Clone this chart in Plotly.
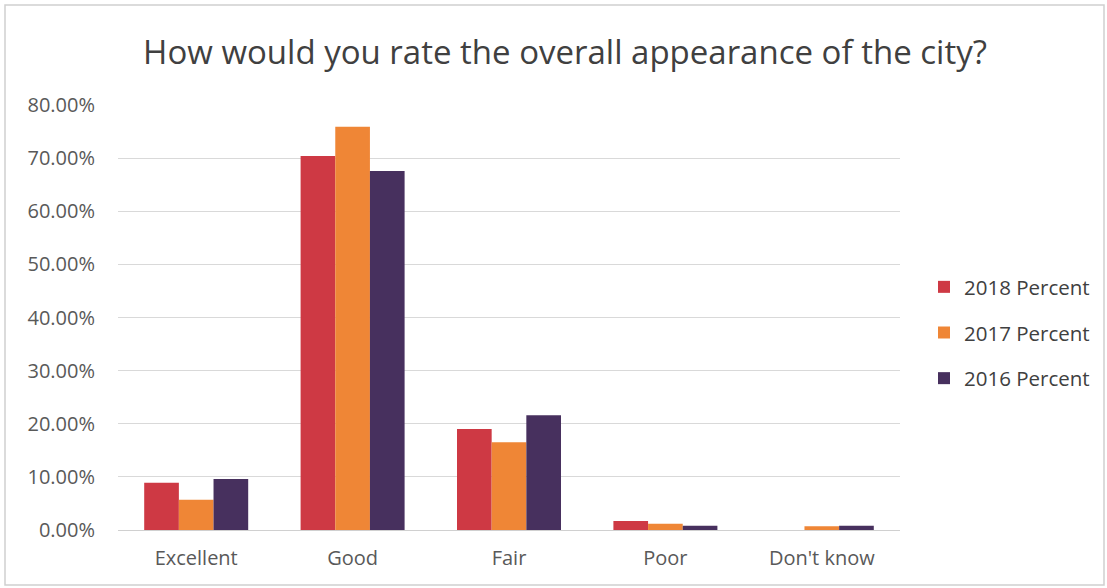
import plotly.graph_objects as go

# Survey responses: share of residents choosing each rating
categories = ["Excellent", "Good", "Fair", "Poor", "Don't know"]
pct_2018 = [0.089, 0.704, 0.190, 0.017, 0.000]
pct_2017 = [0.057, 0.759, 0.165, 0.012, 0.007]
pct_2016 = [0.096, 0.676, 0.216, 0.008, 0.008]

series_names = ["2018 Percent", "2017 Percent", "2016 Percent"]
series_values = [pct_2018, pct_2017, pct_2016]
series_colors = ["#CE3944", "#EF8636", "#47305E"]

W, H = 1107, 588
L, R, T, B = 118, 207, 105, 58

fig = go.Figure()
for name, vals, col in zip(series_names, series_values, series_colors):
    fig.add_trace(go.Bar(
        x=categories, y=vals, name=name, legendgroup=name,
        marker=dict(color=col, line=dict(width=0)),
    ))

# outer chart frame (paper coordinates extend past the plot area)
pw, ph = W - L - R, H - T - B
fx0, fx1 = (5 - L) / pw, (W - 3 - L) / pw
fy0, fy1 = (H - B - (H - 3)) / ph, (H - B - 5) / ph

fig.update_layout(
    width=W, height=H,
    margin=dict(l=L, r=R, t=T, b=B),
    paper_bgcolor="white", plot_bgcolor="white",
    font=dict(family="'Open Sans', Lato, sans-serif", color="#595959"),
    title=dict(
        text="How would you rate the overall appearance of the city?",
        x=565 / W, xanchor="center", y=1 - 52 / H, yanchor="middle",
        font=dict(size=33, color="#404040"),
    ),
    barmode="group", bargap=0.335, bargroupgap=0,
    showlegend=True,
    legend=dict(
        x=(924 - L) / pw, xanchor="left", y=(H - B - 287) / ph + 0.047, yanchor="top",
        font=dict(size=20.5, color="#404040"), tracegroupgap=16,
        itemwidth=30, bgcolor="rgba(0,0,0,0)",
    ),
    shapes=[dict(type="rect", xref="paper", yref="paper",
                 x0=fx0, x1=fx1, y0=fy0, y1=fy1,
                 line=dict(color="#D0D0D0", width=1.5), layer="below")],
)
fig.update_yaxes(
    range=[0, 0.8], dtick=0.1, tickformat=".2%",
    showgrid=True, gridcolor="#D9D9D9", gridwidth=1.3,
    zeroline=True, zerolinecolor="#D0D0D0", zerolinewidth=1.3,
    showline=False, ticks="", ticklabelstandoff=22,
    tickfont=dict(size=20, color="#595959"),
)
fig.update_xaxes(
    showline=False, ticks="", ticklabelstandoff=14,
    tickfont=dict(size=20, color="#595959"),
)

fig.write_html("out.html")
